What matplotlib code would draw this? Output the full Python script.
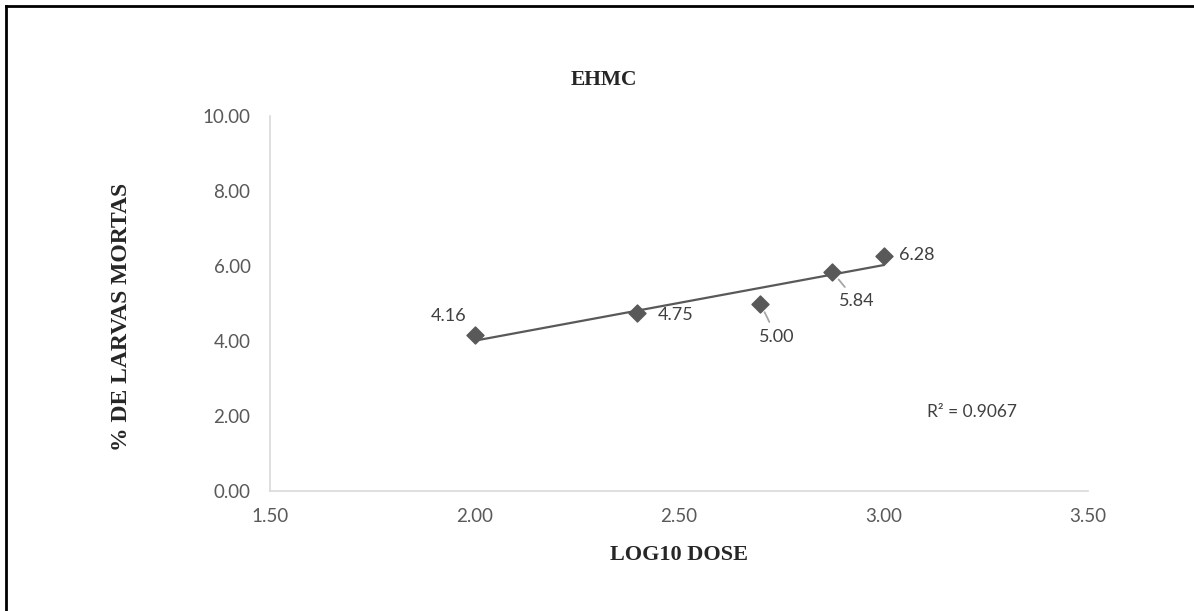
import numpy as np
import matplotlib
matplotlib.use("Agg")
import matplotlib.pyplot as plt
from matplotlib.lines import Line2D

# Data
log_dose = [2.0000, 2.3979, 2.6990, 2.8751, 3.0000]
mortality = [4.16, 4.75, 5.00, 5.84, 6.28]
point_labels = ["4.16", "4.75", "5.00", "5.84", "6.28"]
r_squared = 0.9067
x_ticks = [1.50, 2.00, 2.50, 3.00, 3.50]
y_ticks = [0.00, 2.00, 4.00, 6.00, 8.00, 10.00]
title = "EHMC"
x_label = "LOG10 DOSE"
y_label = "% DE LARVAS MORTAS"

# label offsets (pixels) and whether a leader line is drawn
label_offsets = [(-26, 19), (38, -2), (16, -33), (24, -29), (33, 0)]
leader = [False, False, True, True, False]

W, H = 1194, 611
fig = plt.figure(figsize=(W / 100, H / 100), dpi=100)
fig.patch.set_facecolor("white")

ax = fig.add_axes([270 / W, 1 - 491 / H, (1088 - 270) / W, (491 - 116) / H])
ax.set_xlim(1.5, 3.5)
ax.set_ylim(0, 10)
ax.set_xticks(x_ticks)
ax.set_yticks(y_ticks)
ax.set_xticklabels([f"{v:.2f}" for v in x_ticks])
ax.set_yticklabels([f"{v:.2f}" for v in y_ticks])
for s in ["top", "right"]:
    ax.spines[s].set_visible(False)
for s in ["left", "bottom"]:
    ax.spines[s].set_color("#d9d9d9")
    ax.spines[s].set_linewidth(1.2)
ax.tick_params(axis="both", length=0, labelsize=13.5, colors="#595959")
ax.tick_params(axis="y", pad=14)
ax.tick_params(axis="x", pad=12)
for lab in ax.get_xticklabels() + ax.get_yticklabels():
    lab.set_fontfamily("Lato")

# trendline (linear least squares)
slope, intercept = np.polyfit(log_dose, mortality, 1)
xs = np.array([min(log_dose), max(log_dose)])
ax.plot(xs, slope * xs + intercept, color="#595959", lw=1.6, zorder=2)

ax.scatter(log_dose, mortality, marker="D", s=75, color="#595959", zorder=3)

for x, y, t, (dx, dy), ld in zip(log_dose, mortality, point_labels, label_offsets, leader):
    ax.annotate(t, (x, y), xytext=(dx, dy), textcoords="offset pixels",
                ha="center", va="center", fontsize=13, color="#404040",
                fontfamily="Lato",
                arrowprops=dict(arrowstyle="-", color="#a6a6a6", lw=1.3,
                                shrinkA=3, shrinkB=7) if ld else None,
                zorder=4)

ax.text(3.106, 2.1, f"R² = {r_squared:.4f}", fontsize=12.5, color="#404040",
        fontfamily="Lato", ha="left", va="center")

ax.set_xlabel(x_label, fontfamily="Liberation Serif", fontweight="bold",
              fontsize=16, color="#262626")
ax.xaxis.set_label_coords(0.5, (491 - 555) / 375, transform=ax.transAxes)
ax.xaxis.label.set_va("center")
ax.set_ylabel(y_label, fontfamily="Liberation Serif", fontweight="bold",
              fontsize=17, color="#262626")
ax.yaxis.set_label_coords((122 - 270) / 818, (491 - 317) / 375, transform=ax.transAxes)
ax.yaxis.label.set_va("center")
fig.text(604 / W, 1 - 80 / H, title, fontfamily="Liberation Serif",
         fontweight="bold", fontsize=15.5, color="#262626", ha="center", va="center")

# outer frame (left and top edges)
fig.add_artist(Line2D([6 / W, 6 / W], [0, 1 - 6 / H], transform=fig.transFigure,
                      color="black", lw=2))
fig.add_artist(Line2D([6 / W, 1], [1 - 6 / H, 1 - 6 / H], transform=fig.transFigure,
                      color="black", lw=2))

fig.savefig("out.png", dpi=100)
